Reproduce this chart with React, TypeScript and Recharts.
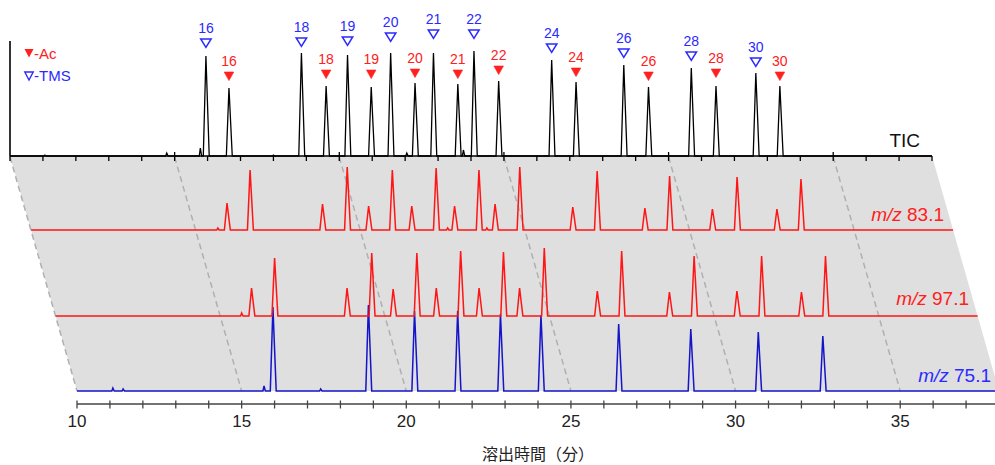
import React from 'react'
import { ComposedChart, Line, Scatter, XAxis, YAxis, ReferenceLine } from 'recharts'

// retention times (min) of the two derivative series, by carbon number
const TMS_CARBON = [16, 18, 19, 20, 21, 22, 24, 26, 28, 30]
const AC_CARBON = [16, 18, 19, 20, 21, 22, 24, 26, 28, 30]
const TMS_TIME = [15.95, 18.85, 20.25, 21.56, 22.86, 24.09, 26.45, 28.64, 30.69, 32.65]
const AC_TIME = [16.65, 19.6, 20.97, 22.3, 23.6, 24.84, 27.19, 29.39, 31.44, 33.38]

// TIC peak heights and marker heights
const TIC_TMS = [100, 103, 101, 103, 103, 105, 96, 91, 88, 83]
const TIC_AC = [68, 70, 69, 73, 72, 75, 74, 69, 70, 70]
const TIC_TMS_MARK = [113, 114, 115, 119, 122, 122, 108, 103, 100, 94]
const TIC_AC_MARK = [80, 82, 82, 83, 82, 86, 84, 80, 83, 80]
const TIC_MINOR_TIME = [11.06, 14.76, 15.78, 18.0, 22.05, 23.77]
const TIC_MINOR = [1, 3, 8, 1, 3, 6]

// m/z 83.1
const MZ83_TMS = [27, 26, 24, 24, 24, 26, 23, 22, 21, 21]
const MZ83_AC = [60, 63, 60, 62, 60, 63, 59, 54, 53, 51]
const MZ83_MINOR_TIME = [15.67, 22.65, 23.84]
const MZ83_MINOR = [2, 2, 2]

// m/z 97.1
const MZ97_TMS = [28, 28, 27, 28, 28, 28, 25, 24, 25, 24]
const MZ97_AC = [58, 63, 63, 65, 64, 68, 65, 60, 60, 60]
const MZ97_MINOR_TIME = [15.65]
const MZ97_MINOR = [3]

// m/z 75.1 (TMS only)
const MZ75_TMS = [84, 86, 80, 80, 77, 76, 67, 62, 59, 55]
const MZ75_MINOR_TIME = [11.09, 11.4, 15.68, 17.4]
const MZ75_MINOR = [3, 2, 5, 2]

const LABELED_TICKS = [10, 15, 20, 25, 30, 35]
const T_MIN = 10
const T_MAX = 38
const MINUTE_TICKS = Array.from({ length: T_MAX - T_MIN + 1 }, (_, i) => T_MIN + i)

// layout
const W = 1005
const H = 465
const PLOT_W = 922
const PX = PLOT_W / (T_MAX - T_MIN)
const TIC_BASE = 156
const BOTTOM_BASE = 391
const TIC_LEFT = 10
const BOTTOM_LEFT = 77
const SKEW = (BOTTOM_LEFT - TIC_LEFT) / (BOTTOM_BASE - TIC_BASE)
const leftAt = (base: number) => TIC_LEFT + (base - TIC_BASE) * SKEW

const MZ83_BASE = 230
const MZ97_BASE = 316

const RED = '#ff1515'
const RED_TXT = '#ff2020'
const BLUE = '#1414c8'
const BLUE_TXT = '#2a2aff'
const SANS = '"Liberation Sans", Arial, sans-serif'
const CJK = '"Noto Sans CJK JP", sans-serif'

type Pk = [number, number, number]

function buildTrace(groups: [number[], number[], number][]) {
  const peaks: Pk[] = []
  groups.forEach(([ts, hs, w]) => ts.forEach((t, i) => peaks.push([t, hs[i], w])))
  peaks.sort((a, b) => a[0] - b[0])
  const pts = [{ t: T_MIN, v: 0 }]
  peaks.forEach(([t, h, w]) => {
    pts.push({ t: t - w * 0.8, v: 0 }, { t, v: h }, { t: t + w, v: 0 })
  })
  pts.push({ t: T_MAX, v: 0 })
  return pts
}

const ticData = buildTrace([
  [TMS_TIME, TIC_TMS, 0.1],
  [AC_TIME, TIC_AC, 0.1],
  [TIC_MINOR_TIME, TIC_MINOR, 0.04],
])
const mz83Data = buildTrace([
  [TMS_TIME, MZ83_TMS, 0.1],
  [AC_TIME, MZ83_AC, 0.1],
  [MZ83_MINOR_TIME, MZ83_MINOR, 0.04],
])
const mz97Data = buildTrace([
  [TMS_TIME, MZ97_TMS, 0.1],
  [AC_TIME, MZ97_AC, 0.1],
  [MZ97_MINOR_TIME, MZ97_MINOR, 0.04],
])
const mz75Data = buildTrace([
  [TMS_TIME, MZ75_TMS, 0.1],
  [MZ75_MINOR_TIME, MZ75_MINOR, 0.04],
])

const markers = [
  ...TMS_TIME.map((t, i) => ({ t, v: TIC_TMS_MARK[i], label: TMS_CARBON[i], kind: 'tms' })),
  ...AC_TIME.map((t, i) => ({ t, v: TIC_AC_MARK[i], label: AC_CARBON[i], kind: 'ac' })),
]

const Marker = (props: any) => {
  const { cx, cy, payload } = props
  const tms = payload.kind === 'tms'
  const color = tms ? BLUE_TXT : RED_TXT
  const pts = tms
    ? `${cx - 5.2},${cy - 4} ${cx + 5.2},${cy - 4} ${cx},${cy + 4.3}`
    : `${cx - 4.8},${cy - 4} ${cx + 4.8},${cy - 4} ${cx},${cy + 4.6}`
  return (
    <g>
      <polygon points={pts} fill={tms ? 'none' : color} stroke={color} strokeWidth={tms ? 1.5 : 0.6} />
      <text x={cx} y={cy - 10} textAnchor="middle" fontSize={14} fill={color} fontFamily={SANS}>
        {payload.label}
      </text>
    </g>
  )
}

const TicTick = (props: any) => {
  const { x, y, payload } = props
  const major = payload.value % 5 === 0 && payload.value !== T_MIN
  return <line x1={x} x2={x} y1={major ? y - 4 : y} y2={y + 5} stroke="#000" strokeWidth={1.3} />
}

const BottomTick = (props: any) => {
  const { x, y, payload } = props
  return (
    <g>
      <line x1={x} x2={x} y1={y - 3.5} y2={y + 4.5} stroke="#444" strokeWidth={1.3} />
      {LABELED_TICKS.includes(payload.value) && (
        <text x={x} y={y + 23} textAnchor="middle" fontSize={17} fill="#222" fontFamily={SANS}>
          {payload.value}
        </text>
      )}
    </g>
  )
}

const layer: React.CSSProperties = { position: 'absolute', left: 0, top: 0 }

function margins(left: number, top: number, bottom: number) {
  return { left, top, right: W - left - PLOT_W, bottom: H - bottom }
}

export default function App() {
  const l83 = leftAt(MZ83_BASE)
  const l97 = leftAt(MZ97_BASE)
  const xr = (left: number, t: number) => left + (t - T_MIN) * PX

  return (
    <div style={{ position: 'relative', width: 995, height: H, overflow: 'hidden', background: '#fff' }}>
      <style>{'body{margin:0}'}</style>

      {/* skewed gray panel and guide lines */}
      <svg width={W} height={H} style={layer}>
        <polygon
          points={`${TIC_LEFT},${TIC_BASE} ${xr(TIC_LEFT, T_MAX)},${TIC_BASE} ${xr(BOTTOM_LEFT, T_MAX)},${BOTTOM_BASE} ${BOTTOM_LEFT},${BOTTOM_BASE}`}
          fill="#dfdfdf"
        />
        {LABELED_TICKS.map((t) => (
          <line
            key={t}
            x1={xr(TIC_LEFT, t)}
            y1={TIC_BASE + 1}
            x2={xr(BOTTOM_LEFT, t)}
            y2={BOTTOM_BASE}
            stroke="#b0b0b0"
            strokeWidth={1.5}
            strokeDasharray="6 4"
          />
        ))}
      </svg>

      {/* m/z 75.1 with time axis */}
      <div style={layer}>
        <ComposedChart width={W} height={H} margin={{ left: BOTTOM_LEFT, top: 300, right: W - BOTTOM_LEFT - PLOT_W, bottom: 0 }}>
          <XAxis
            type="number"
            dataKey="t"
            domain={[T_MIN, T_MAX]}
            ticks={MINUTE_TICKS}
            interval={0}
            height={61}
            axisLine={{ stroke: '#444', strokeWidth: 1.5 }}
            tickLine={false}
            tickSize={0}
            tickMargin={0}
            tick={BottomTick}
            label={{ value: '溶出時間（分）', position: 'insideBottom', offset: 5, fontSize: 16, fill: '#222', fontFamily: CJK }}
          />
          <YAxis type="number" domain={[-13, 91]} hide />
          <Line data={mz75Data} dataKey="v" stroke={BLUE} strokeWidth={1.5} dot={false} activeDot={false} isAnimationActive={false} />
        </ComposedChart>
      </div>

      {/* m/z 97.1 */}
      <div style={layer}>
        <ComposedChart width={W} height={H} margin={margins(l97, MZ83_BASE, MZ97_BASE)}>
          <XAxis type="number" dataKey="t" domain={[T_MIN, T_MAX]} hide />
          <YAxis type="number" domain={[0, MZ97_BASE - MZ83_BASE]} hide />
          <Line data={mz97Data} dataKey="v" stroke={RED} strokeWidth={1.5} dot={false} activeDot={false} isAnimationActive={false} />
        </ComposedChart>
      </div>

      {/* m/z 83.1 */}
      <div style={layer}>
        <ComposedChart width={W} height={H} margin={margins(l83, TIC_BASE, MZ83_BASE)}>
          <XAxis type="number" dataKey="t" domain={[T_MIN, T_MAX]} hide />
          <YAxis type="number" domain={[0, MZ83_BASE - TIC_BASE]} hide />
          <Line data={mz83Data} dataKey="v" stroke={RED} strokeWidth={1.5} dot={false} activeDot={false} isAnimationActive={false} />
        </ComposedChart>
      </div>

      {/* TIC */}
      <div style={layer}>
        <ComposedChart width={W} height={H} margin={{ left: TIC_LEFT, top: 0, right: W - TIC_LEFT - PLOT_W, bottom: H - TIC_BASE - 10 }}>
          <XAxis
            type="number"
            dataKey="t"
            domain={[T_MIN, T_MAX]}
            ticks={MINUTE_TICKS}
            interval={0}
            height={10}
            axisLine={{ stroke: '#000', strokeWidth: 1.6 }}
            tickLine={false}
            tickSize={0}
            tickMargin={0}
            tick={TicTick}
          />
          <YAxis type="number" domain={[0, TIC_BASE]} hide />
          <ReferenceLine segment={[{ x: T_MIN, y: 0 }, { x: T_MIN, y: 115 }]} stroke="#333" strokeWidth={2} ifOverflow="visible" />
          <Line data={ticData} dataKey="v" stroke="#000" strokeWidth={1.3} dot={false} activeDot={false} isAnimationActive={false} />
          <Scatter data={markers} dataKey="v" shape={Marker} isAnimationActive={false} />
        </ComposedChart>
      </div>

      {/* legend and trace names */}
      <svg width={W} height={H} style={layer}>
        <polygon points="24.5,49 33.5,49 29,57.5" fill={RED_TXT} />
        <text x={34} y={59} fontSize={15} fill={RED_TXT} fontFamily={SANS}>-Ac</text>
        <polygon points="24.8,72 33.2,72 29,80" fill="none" stroke={BLUE_TXT} strokeWidth={1.4} />
        <text x={34} y={81} fontSize={15} fill={BLUE_TXT} fontFamily={SANS}>-TMS</text>

        <text x={920} y={147} fontSize={19} textAnchor="end" fill="#111" fontFamily={SANS}>TIC</text>
        <text x={944} y={221} fontSize={19} textAnchor="end" fill={RED_TXT} fontFamily={SANS}>
          <tspan fontStyle="italic">m/z</tspan> 83.1
        </text>
        <text x={969} y={305} fontSize={19} textAnchor="end" fill={RED_TXT} fontFamily={SANS}>
          <tspan fontStyle="italic">m/z</tspan> 97.1
        </text>
        <text x={991} y={382} fontSize={19} textAnchor="end" fill={BLUE_TXT} fontFamily={SANS}>
          <tspan fontStyle="italic">m/z</tspan> 75.1
        </text>
      </svg>
    </div>
  )
}
